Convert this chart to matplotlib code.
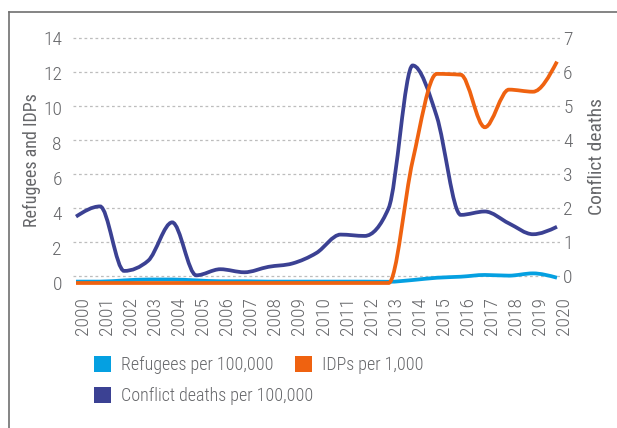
import numpy as np
import matplotlib
matplotlib.use("Agg")
import matplotlib.pyplot as plt
from matplotlib.path import Path
from matplotlib.patches import PathPatch, Patch
from matplotlib.lines import Line2D
from matplotlib import font_manager
import matplotlib.transforms as mtransforms

# ---------------- data ----------------
years = list(range(2000, 2021))
refugees_per_100k = [0.08, 0.08, 0.15, 0.2, 0.2, 0.15, 0.1, 0.1, 0.08, 0.08, 0.08,
                     0.08, 0.08, 0.07, 0.17, 0.3, 0.36, 0.46, 0.42, 0.55, 0.3]
idps_per_1k = [0, 0, 0, 0, 0, 0, 0, 0, 0, 0, 0,
               0, 0, 0, 7.0, 11.95, 11.9, 8.9, 11.05, 10.93, 12.65]
conflict_deaths_per_100k = [1.75, 2.05, 0.15, 0.45, 1.58, 0.02, 0.2, 0.11, 0.27, 0.37, 0.68,
                            1.22, 1.18, 2.0, 6.2, 4.7, 1.8, 1.9, 1.55, 1.23, 1.45]
left_ticks = [0, 2, 4, 6, 8, 10, 12, 14]
right_ticks = [0, 1, 2, 3, 4, 5, 6, 7]
labels = ["Refugees per 100,000", "IDPs per 1,000", "Conflict deaths per 100,000"]
colors = ["#05a0e1", "#ef6210", "#3b4193"]


# ---------------- fonts: look for a condensed/narrow face ----------------
def pick_font():
    order = ["Roboto", "Noto Sans", "Open Sans", "Liberation Sans", "Lato", "Inter", "DejaVu Sans"]
    best = None
    for f in font_manager.fontManager.ttflist:
        st = str(f.stretch).lower()
        nm = f.name
        cond = ("condensed" in st) or ("ondensed" in nm) or ("Narrow" in nm)
        if not cond or f.style != "normal":
            continue
        if "extra" in st or "ultra" in st:
            continue
        try:
            w = int(f.weight)
        except Exception:
            w = 400
        if w < 300 or w > 400:
            continue
        rank = len(order)
        for i, o in enumerate(order):
            if nm.startswith(o):
                rank = i
                break
        key = (rank, 0 if w == 300 else 1)
        if best is None or key < best[0]:
            best = (key, f)
    return best[1] if best else None


chosen = pick_font()
if chosen is not None:
    font_manager.fontManager.addfont(chosen.fname)
    plt.rcParams["font.family"] = [chosen.name, "DejaVu Sans"]
    plt.rcParams["font.stretch"] = chosen.stretch
    plt.rcParams["font.weight"] = chosen.weight
    fs = 14
else:
    plt.rcParams["font.family"] = ["DejaVu Sans"]
    plt.rcParams["font.stretch"] = "condensed"
    fs = 11
txt = "#66676a"


def monotone_path(x, y):
    x = np.asarray(x, float)
    y = np.asarray(y, float)
    n = len(x)
    h = np.diff(x)
    s = np.diff(y) / h
    m = np.zeros(n)
    for i in range(1, n - 1):
        s0, s1 = s[i - 1], s[i]
        if s0 * s1 <= 0:
            m[i] = 0.0
        else:
            p = (s0 * h[i] + s1 * h[i - 1]) / (h[i - 1] + h[i])
            m[i] = (np.sign(s0) + np.sign(s1)) * min(abs(s0), abs(s1), 0.5 * abs(p))
    m[0] = (3 * s[0] - m[1]) / 2
    m[-1] = (3 * s[-1] - m[-2]) / 2
    verts = [(x[0], y[0])]
    codes = [Path.MOVETO]
    for i in range(n - 1):
        hh = h[i]
        verts += [(x[i] + hh / 3, y[i] + m[i] * hh / 3),
                  (x[i + 1] - hh / 3, y[i + 1] - m[i + 1] * hh / 3),
                  (x[i + 1], y[i + 1])]
        codes += [Path.CURVE4] * 3
    return Path(verts, codes)


W, H = 617, 428
fig = plt.figure(figsize=(W / 100, H / 100), dpi=100)
ax = fig.add_axes([73 / W, (H - 290) / H, 487 / W, 260 / H])
ax2 = ax.twinx()

ax.set_xlim(1999.875, 2020.125)
ax.set_ylim(-0.4, 14.457)
ax2.set_ylim(-0.412, 7.244)

ax.set_zorder(2)
ax2.set_zorder(1)
ax.patch.set_visible(False)

# grid from right axis
ax2.set_yticks(right_ticks)
ax2.grid(axis="y", color="#bdbdbd", linestyle=(0, (2.2, 2.2)), linewidth=0.9)
ax2.set_axisbelow(True)

lw = 2.7
ax2.add_patch(PathPatch(monotone_path(years, conflict_deaths_per_100k), fill=False,
                        edgecolor=colors[2], lw=lw, transform=ax2.transData))
ax.add_patch(PathPatch(monotone_path(years, refugees_per_100k), fill=False,
                       edgecolor=colors[0], lw=lw, transform=ax.transData))
ax.add_patch(PathPatch(monotone_path(years, idps_per_1k), fill=False,
                       edgecolor=colors[1], lw=lw, transform=ax.transData))

for a in (ax, ax2):
    for sp in a.spines.values():
        sp.set_visible(False)

ax.set_yticks(left_ticks)
ax.set_yticklabels([str(t) for t in left_ticks])
ax.tick_params(axis="y", length=0, pad=8, labelsize=fs, labelcolor=txt)
ax2.set_yticklabels([str(t) for t in right_ticks])
ax2.tick_params(axis="y", length=0, pad=2.2, labelsize=fs, labelcolor=txt)

ax.set_xticks(years)
ax.set_xticklabels([str(y) for y in years], rotation=90)
ax.tick_params(axis="x", length=0, pad=5, labelsize=fs, labelcolor=txt)
offset = mtransforms.ScaledTranslation(7 / 100, 0, fig.dpi_scale_trans)
for lab in ax.get_xticklabels():
    lab.set_transform(lab.get_transform() + offset)

ax.set_ylabel("Refugees and IDPs", fontsize=fs - 1, color=txt)
ax.yaxis.set_label_coords((41 - 73) / 487, 0.5)
ax2.set_ylabel("Conflict deaths", fontsize=fs, color=txt)
ax2.yaxis.set_label_coords((588 - 73) / 487, 0.513)

# legend, three entries placed individually
pos = [(94, 365), (295, 365), (94, 396)]
for lab, col, (px, py) in zip(labels, colors, pos):
    fig.legend(handles=[Patch(facecolor=col, edgecolor="none")], labels=[lab],
               loc="center left", bbox_to_anchor=(px / W, 1 - py / H),
               frameon=False, borderpad=0, borderaxespad=0,
               handlelength=0.95, handleheight=0.95, handletextpad=0.55,
               fontsize=fs - 1, labelcolor=txt)

# frame lines (top and left)
fig.add_artist(Line2D([8.5 / W, 1], [1 - 11.5 / H, 1 - 11.5 / H], transform=fig.transFigure,
                      color="#707070", lw=1.2))
fig.add_artist(Line2D([8.5 / W, 8.5 / W], [0, 1 - 11.5 / H], transform=fig.transFigure,
                      color="#707070", lw=1.2))

fig.savefig("out.png", dpi=100)
